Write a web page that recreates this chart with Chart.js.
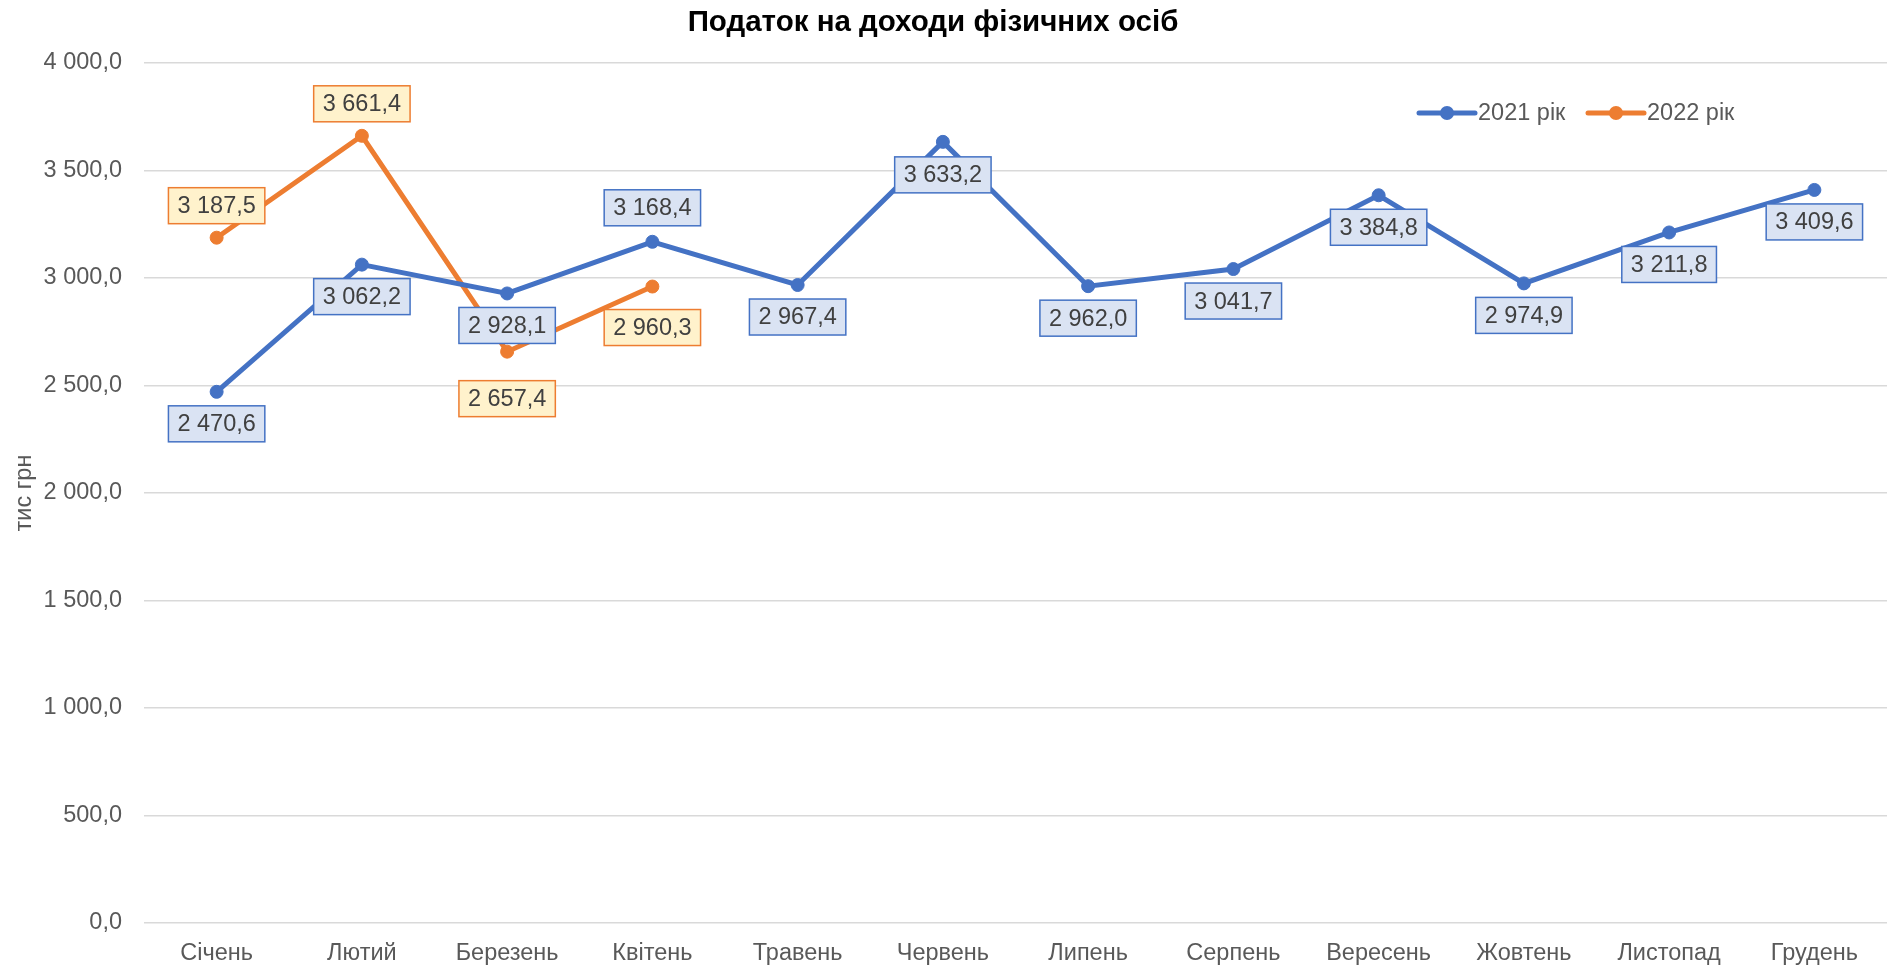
<!DOCTYPE html>
<html>
<head>
<meta charset="utf-8">
<script src="https://cdn.jsdelivr.net/npm/chart.js@4.4.1/dist/chart.umd.min.js"></script>
<style>
  html, body { margin: 0; padding: 0; background: #fff; }
  #wrap { width: 1898px; height: 970px; position: relative; }
</style>
</head>
<body>
<div id="wrap"><canvas id="c"></canvas></div>
<script>
// chart data
const months = ['Січень','Лютий','Березень','Квітень','Травень','Червень','Липень','Серпень','Вересень','Жовтень','Листопад','Грудень'];
const values2021 = [2470.6, 3062.2, 2928.1, 3168.4, 2967.4, 3633.2, 2962.0, 3041.7, 3384.8, 2974.9, 3211.8, 3409.6];
const values2022 = [3187.5, 3661.4, 2657.4, 2960.3, null, null, null, null, null, null, null, null];
const seriesNames = ['2021 рік', '2022 рік'];
const chartTitle = 'Податок на доходи фізичних осіб';
const yTicks = [0, 500, 1000, 1500, 2000, 2500, 3000, 3500, 4000];

// label placement (px offset from point, negative = above)
const labelOffsets2021 = [32, 32, 32, -34, 32, 33, 32, 32, 32, 32, 32, 32];
const labelOffsets2022 = [-32, -32, 47, 41];

const BLUE = '#4472C4';
const ORANGE = '#ED7D31';
const FONT = "'Liberation Sans', Arial, sans-serif";
const TXT = '#595959';

function fmt(v) {
  const [i, d] = v.toFixed(1).split('.');
  return i.replace(/\B(?=(\d{3})+(?!\d))/g, ' ') + ',' + d;
}

// data label boxes drawn after both lines
const boxLabels = {
  id: 'boxLabels',
  afterDatasetsDraw(chart) {
    const ctx = chart.ctx;
    const styles = [
      { fill: '#DAE3F3', stroke: BLUE, offs: labelOffsets2021 },
      { fill: '#FFF2CC', stroke: ORANGE, offs: labelOffsets2022 },
    ];
    ctx.save();
    ctx.font = `23.5px ${FONT}`;
    ctx.textAlign = 'center';
    ctx.textBaseline = 'middle';
    chart.data.datasets.forEach((ds, di) => {
      const meta = chart.getDatasetMeta(di);
      const st = styles[di];
      meta.data.forEach((pt, i) => {
        const v = ds.data[i];
        if (v == null) return;
        const txt = fmt(v);
        const w = ctx.measureText(txt).width + 18;
        const h = 36;
        const cx = pt.x, cy = pt.y + st.offs[i];
        ctx.fillStyle = st.fill;
        ctx.fillRect(cx - w / 2, cy - h / 2, w, h);
        ctx.lineWidth = 1.5;
        ctx.strokeStyle = st.stroke;
        ctx.strokeRect(cx - w / 2, cy - h / 2, w, h);
        ctx.fillStyle = '#404040';
        ctx.fillText(txt, cx, cy + 1);
      });
    });
    ctx.restore();
  }
};

// title (slightly left of canvas centre) and legend inside the plot, top right
const overlay = {
  id: 'overlay',
  afterDraw(chart) {
    const ctx = chart.ctx;
    ctx.save();
    ctx.font = `bold 29.5px ${FONT}`;
    ctx.fillStyle = '#000';
    ctx.textAlign = 'center';
    ctx.textBaseline = 'middle';
    ctx.fillText(chartTitle, 933, 23);

    const items = [
      { x: 1419, color: BLUE, text: seriesNames[0] },
      { x: 1588, color: ORANGE, text: seriesNames[1] },
    ];
    const y = 113;
    ctx.font = `23.5px ${FONT}`;
    ctx.textAlign = 'left';
    items.forEach(it => {
      ctx.strokeStyle = it.color;
      ctx.lineWidth = 5;
      ctx.lineCap = 'round';
      ctx.beginPath();
      ctx.moveTo(it.x, y);
      ctx.lineTo(it.x + 56, y);
      ctx.stroke();
      ctx.fillStyle = it.color;
      ctx.beginPath();
      ctx.arc(it.x + 28, y, 7, 0, Math.PI * 2);
      ctx.fill();
      ctx.fillStyle = TXT;
      ctx.fillText(it.text, it.x + 59, y + 1);
    });
    ctx.restore();
  }
};

new Chart(document.getElementById('c'), {
  type: 'line',
  data: {
    labels: months,
    datasets: [
      {
        label: seriesNames[0], data: values2021,
        borderColor: BLUE, backgroundColor: BLUE,
        borderWidth: 5, pointRadius: 6.5, pointBorderWidth: 1,
        pointBackgroundColor: BLUE, pointBorderColor: BLUE, tension: 0,
      },
      {
        label: seriesNames[1], data: values2022,
        borderColor: ORANGE, backgroundColor: ORANGE,
        borderWidth: 5, pointRadius: 6.5, pointBorderWidth: 1,
        pointBackgroundColor: ORANGE, pointBorderColor: ORANGE, tension: 0,
        spanGaps: false,
      },
    ],
  },
  options: {
    responsive: true,
    maintainAspectRatio: false,
    animation: false,
    layout: { padding: { left: 0, right: 11, top: 63, bottom: 0 } },
    plugins: {
      legend: { display: false },
      tooltip: { enabled: false },
      title: { display: false },
    },
    scales: {
      x: {
        offset: true,
        grid: { display: false, drawTicks: false },
        border: { display: false },
        ticks: { color: TXT, font: { family: FONT, size: 23.5 }, padding: 16, maxRotation: 0, autoSkip: false },
        afterFit(scale) { scale.height = 47; },
      },
      y: {
        min: 0, max: 4000,
        afterBuildTicks(scale) { scale.ticks = yTicks.map(v => ({ value: v })); },
        grid: { color: '#D9D9D9', lineWidth: 1.5, drawTicks: false },
        border: { display: false },
        ticks: { color: TXT, font: { family: FONT, size: 23.5 }, padding: 22, callback: v => fmt(v) },
        title: {
          display: true, text: 'тис грн', color: TXT,
          font: { family: FONT, size: 23.5 }, padding: { top: 10, bottom: 0 },
        },
        afterFit(scale) { scale.width = 144; },
      },
    },
  },
  plugins: [boxLabels, overlay],
});
</script>
</body>
</html>
